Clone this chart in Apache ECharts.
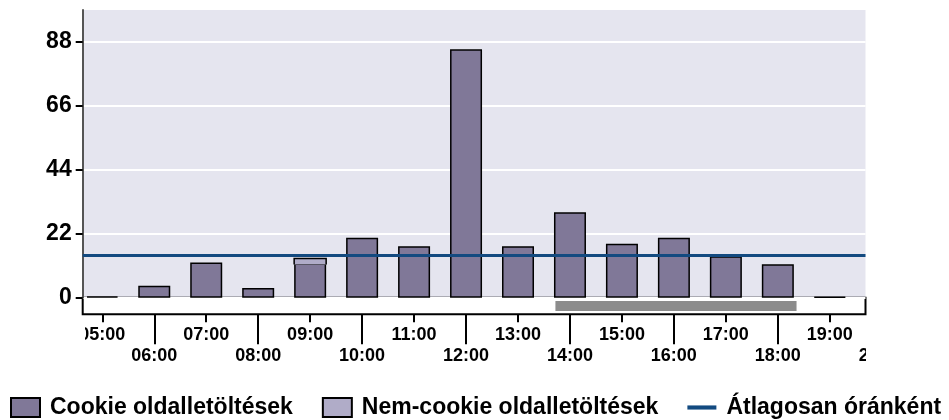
<!DOCTYPE html>
<html>
<head>
<meta charset="utf-8">
<script src="https://cdn.jsdelivr.net/npm/echarts@6/dist/echarts.min.js"></script>
<style>
html,body{margin:0;padding:0;background:#fff;}
#chart{width:949px;height:420px;}
</style>
</head>
<body>
<div id="chart"></div>
<script>
// ---- data ----
const hours = [5, 6, 7, 8, 9, 10, 11, 12, 13, 14, 15, 16, 17, 18, 19];
const cookieViews = [0.5, 4.1, 12.1, 3.3, 11.8, 20.6, 17.7, 85.5, 17.7, 29.4, 18.6, 20.6, 14.3, 11.5, 0.3];
const nonCookieViews = [0, 0, 0, 0, 1.7, 0, 0, 0, 0, 0, 0, 0, 0, 0, 0];
const hourlyAverage = [14.7];
const yTickValues = [0, 22, 44, 66, 88];
const upperHourTicks = [5, 7, 9, 11, 13, 15, 17, 19];
const lowerHourTicks = [6, 8, 10, 12, 14, 16, 18];
const lowerHourLabels = [6, 8, 10, 12, 14, 16, 18, 20];
const highlightRange = [13.72, 18.36];
const seriesNames = ['Cookie oldalletöltések', 'Nem-cookie oldalletöltések', 'Átlagosan óránként'];

// ---- layout ----
const X_MIN = 4.623, X_MAX = 19.687, X_MAX_LABELS = 20.687;
const BAR_W = 32;
const FONT = "'Liberation Sans', Arial, sans-serif";
const hourFmt = v => String(v).padStart(2, '0') + ':00';

const chart = echarts.init(document.getElementById('chart'), null, {renderer: 'canvas'});
chart.setOption({
  animation: false,
  backgroundColor: '#fff',
  textStyle: {fontFamily: FONT},
  grid: [
    {left: 82.7, right: 83.5, top: 10, bottom: 122.3, show: true, backgroundColor: '#e5e5ef', borderWidth: 0},
    {left: 82.7, right: 83.5, top: 297.7, bottom: 105.7, show: true, backgroundColor: '#fff', borderColor: '#000', borderWidth: 2},
    {left: 82.7, right: 31.6, top: 297.7, bottom: 105.7, show: false}
  ],
  xAxis: [
    {gridIndex: 0, type: 'value', min: X_MIN, max: X_MAX, show: false},
    {gridIndex: 1, type: 'value', min: X_MIN, max: X_MAX, show: false},
    {gridIndex: 2, type: 'value', min: X_MIN, max: X_MAX_LABELS, position: 'bottom',
      axisLine: {show: false}, splitLine: {show: false},
      axisTick: {show: true, customValues: upperHourTicks, length: 8, lineStyle: {color: '#000', width: 2}},
      axisLabel: {customValues: upperHourTicks, formatter: hourFmt, margin: 12, fontSize: 18, fontWeight: 'bold', color: '#000', fontFamily: FONT}},
    {gridIndex: 2, type: 'value', min: X_MIN, max: X_MAX_LABELS, position: 'bottom',
      axisLine: {show: false}, splitLine: {show: false},
      axisTick: {show: true, customValues: lowerHourTicks, length: 30, lineStyle: {color: '#000', width: 2}},
      axisLabel: {customValues: lowerHourLabels, formatter: hourFmt, margin: 33, fontSize: 18, fontWeight: 'bold', color: '#000', fontFamily: FONT}}
  ],
  yAxis: [
    {gridIndex: 0, type: 'value', min: 0, max: 99, interval: 11,
      axisLine: {show: true, lineStyle: {color: '#555', width: 2}},
      axisTick: {show: true, customValues: yTickValues, length: 7, lineStyle: {color: '#000', width: 2}},
      axisLabel: {customValues: yTickValues, margin: 11, fontSize: 23, fontWeight: 'bold', color: '#000', fontFamily: FONT},
      splitLine: {show: true, lineStyle: {color: '#fff', width: 2}}},
    {gridIndex: 1, type: 'value', min: 0, max: 1, show: false},
    {gridIndex: 2, type: 'value', min: 0, max: 1, show: false}
  ],
  legend: {
    left: 10, top: 396, padding: 0, itemWidth: 29, itemHeight: 19, itemGap: 29,
    textStyle: {fontSize: 23, fontWeight: 'bold', color: '#000', fontFamily: FONT, padding: [0, 0, 0, 5]},
    data: [
      {name: seriesNames[0], icon: 'rect'},
      {name: seriesNames[1], icon: 'rect'},
      {name: seriesNames[2], icon: 'path://M0,0L28,0L28,4L0,4Z', itemStyle: {color: '#134a80', borderWidth: 0}}
    ]
  },
  series: [
    {name: seriesNames[0], type: 'bar', xAxisIndex: 0, yAxisIndex: 0, z: 3,
      barWidth: BAR_W, data: hours.map((h, i) => [h, cookieViews[i]]),
      itemStyle: {color: '#807898', borderColor: '#000', borderWidth: 1.5}},
    {name: seriesNames[1], type: 'custom', xAxisIndex: 0, yAxisIndex: 0, z: 4,
      data: hours.map((h, i) => [h, cookieViews[i], nonCookieViews[i]]).filter(d => d[2] > 0),
      encode: {x: 0, y: [1, 2]},
      itemStyle: {color: '#b0acc8', borderColor: '#000', borderWidth: 1.5},
      renderItem: function (params, api) {
        const h = api.value(0), base = api.value(1), add = api.value(2);
        const top = api.coord([h, base + add]);
        const bottom = api.coord([h, base]);
        const x0 = top[0] - BAR_W / 2, x1 = top[0] + BAR_W / 2;
        return {type: 'group', children: [
          {type: 'rect', shape: {x: x0, y: top[1], width: BAR_W, height: bottom[1] - top[1] + 1},
            style: {fill: '#b0acc8'}},
          {type: 'polyline', shape: {points: [[x0, bottom[1] + 1], [x0, top[1]], [x1, top[1]], [x1, bottom[1] + 1]]},
            style: {fill: null, stroke: '#000', lineWidth: 1.5}}
        ]};
      }},
    {name: seriesNames[2], type: 'line', xAxisIndex: 0, yAxisIndex: 0, z: 1, data: [],
      symbol: 'none', showSymbol: false,
      lineStyle: {color: '#134a80', width: 4}, itemStyle: {color: '#134a80'},
      markLine: {silent: true, symbol: ['none', 'none'], label: {show: false},
        lineStyle: {color: '#134a80', width: 3, type: 'solid'},
        data: hourlyAverage.map(v => ({yAxis: v}))}},
    {type: 'custom', xAxisIndex: 1, yAxisIndex: 1, z: 3,
      data: [highlightRange],
      encode: {x: [0, 1]},
      renderItem: function (params, api) {
        const a = api.coord([api.value(0), 0.8]);
        const b = api.coord([api.value(1), 0.2]);
        return {type: 'rect', shape: {x: a[0], y: a[1], width: b[0] - a[0], height: b[1] - a[1]},
          style: {fill: '#8c8c8c'}};
      }}
  ],
  graphic: [
    {type: 'rect', left: 0, top: 323, shape: {width: 85, height: 24}, style: {fill: '#fff'}, z: 100, silent: true},
    {type: 'rect', left: 866, top: 346, shape: {width: 83, height: 22}, style: {fill: '#fff'}, z: 100, silent: true}
  ]
});
</script>
</body>
</html>
